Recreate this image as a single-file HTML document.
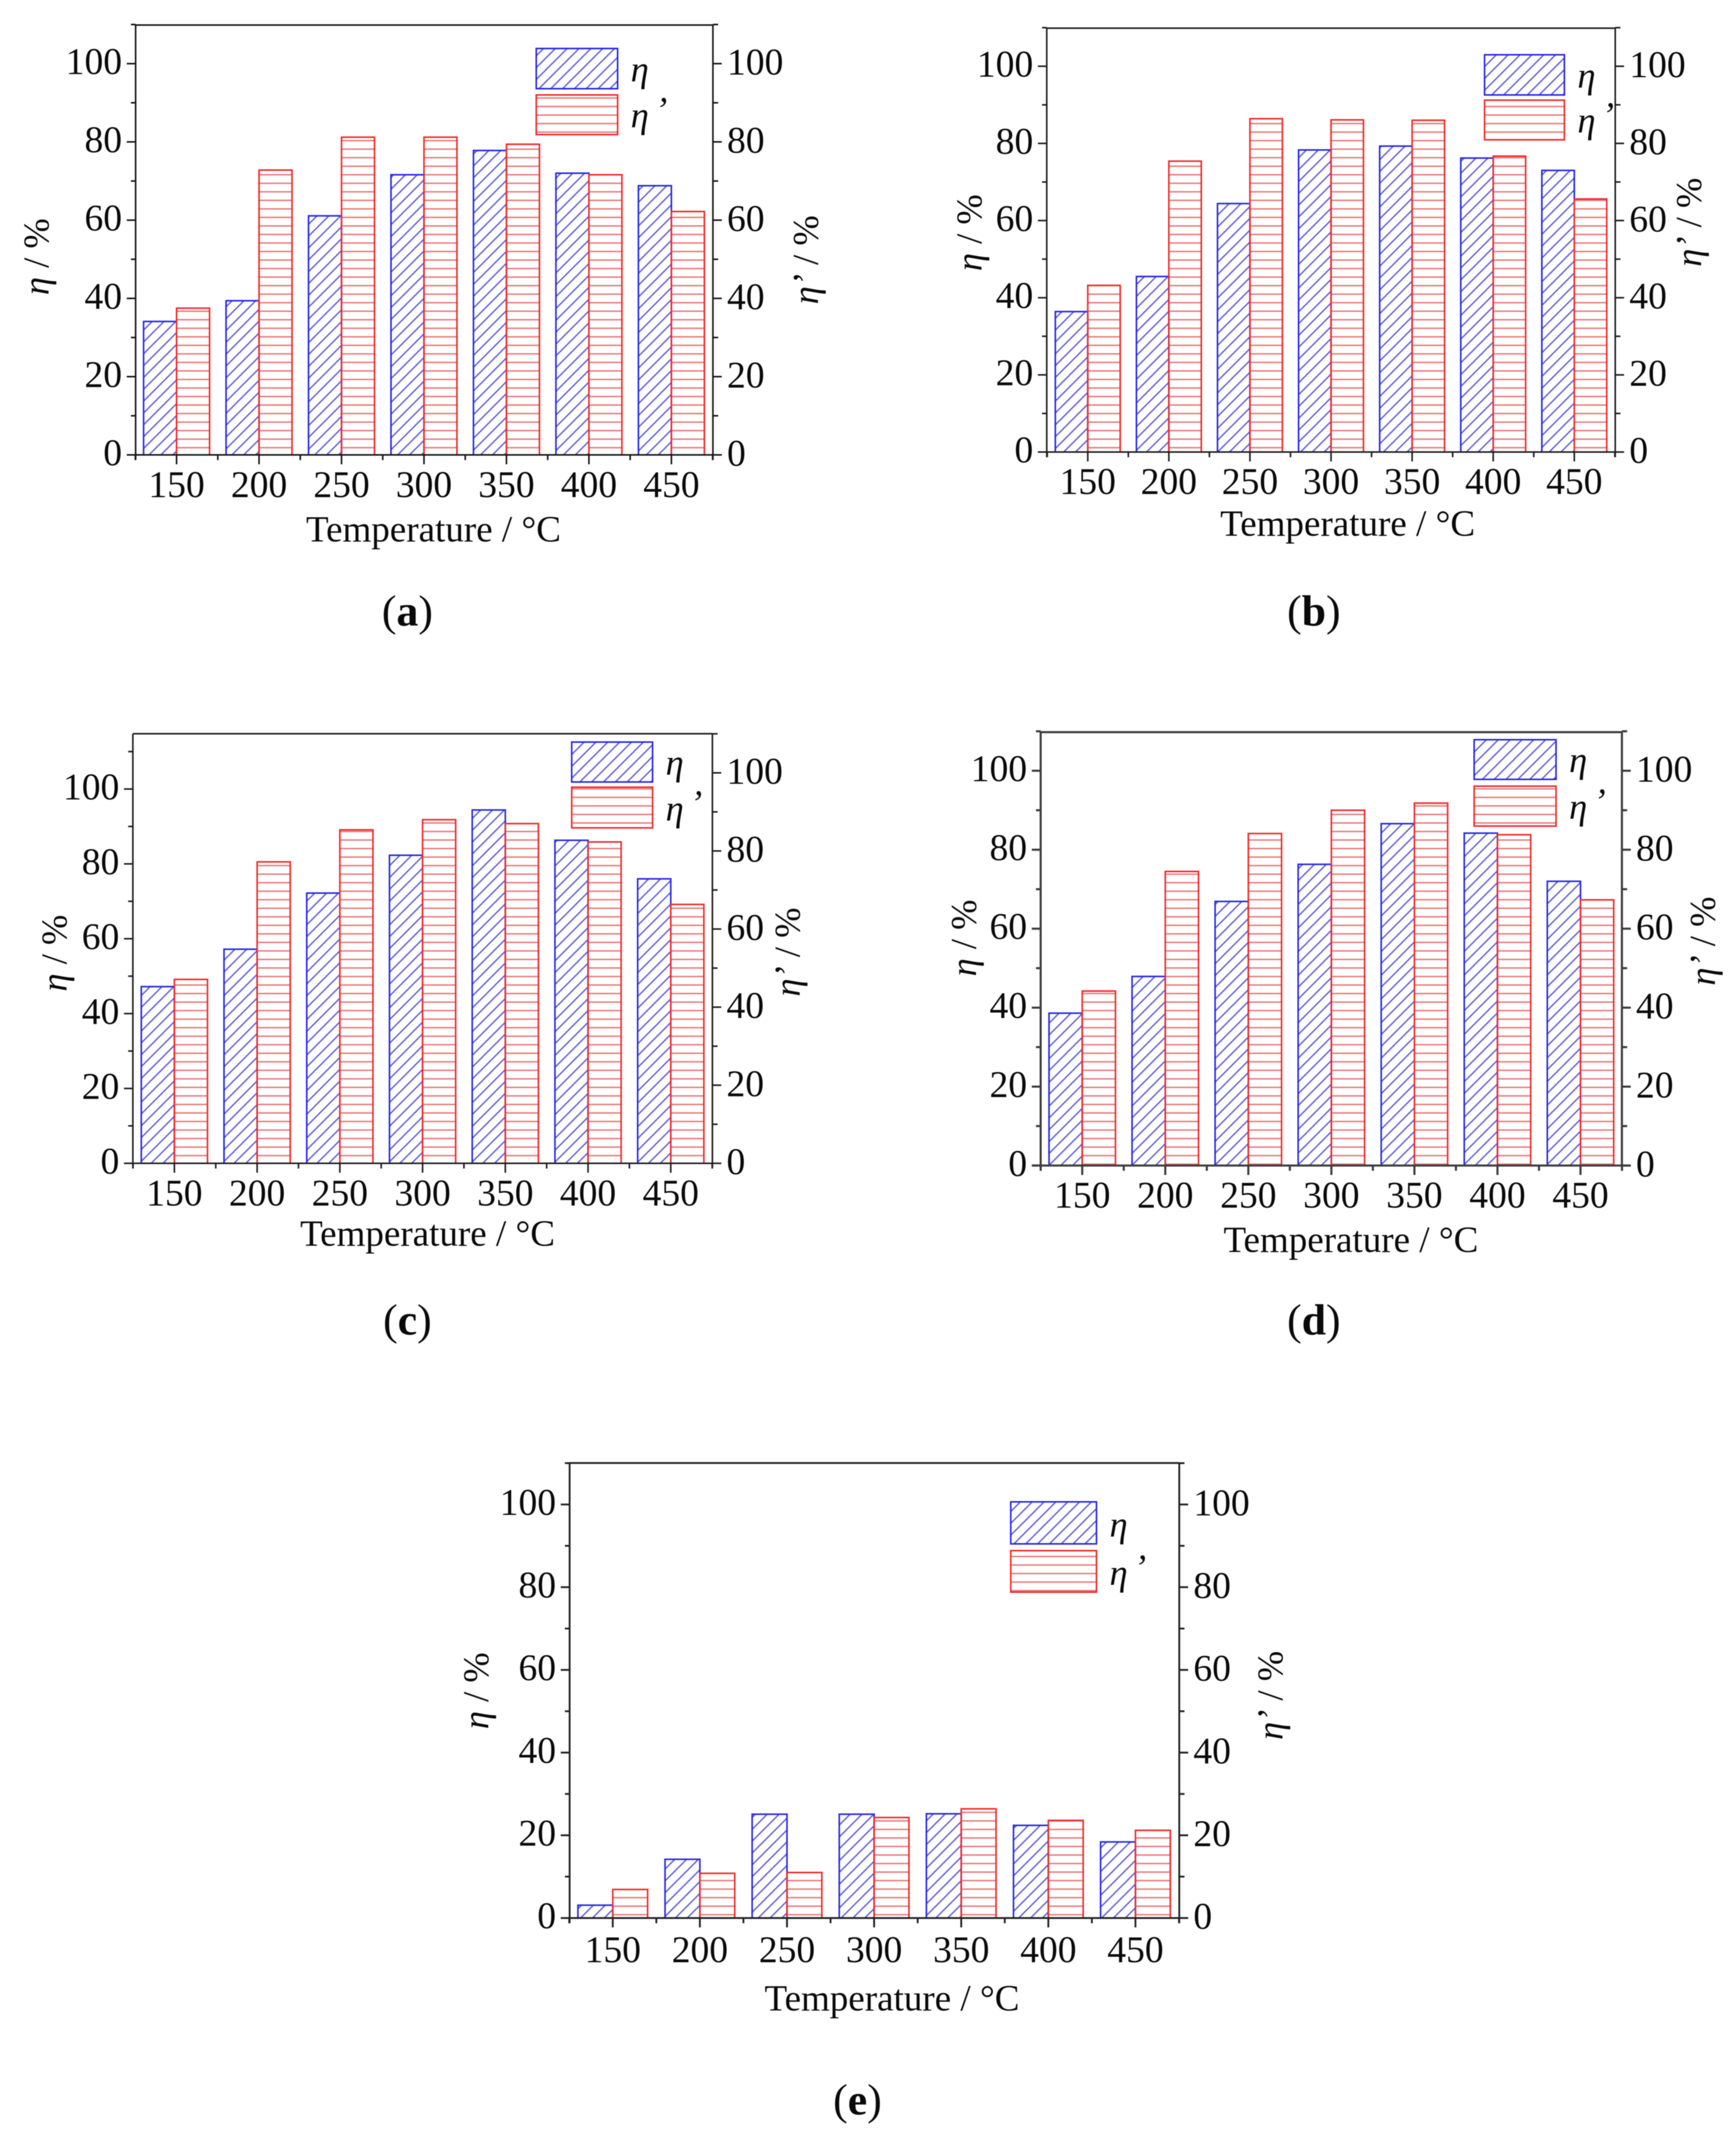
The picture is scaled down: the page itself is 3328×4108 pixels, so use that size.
<!DOCTYPE html>
<html lang="en">
<head>
<meta charset="utf-8">
<title>Efficiency versus temperature panels</title>
<style>
html,body{margin:0;padding:0;background:#fff;}
body{width:3328px;height:4108px;overflow:hidden;}
svg{display:block;filter:blur(0.7px);}
text{font-family:"Liberation Serif",serif;fill:#0a0a0a;white-space:pre;}
</style>
</head>
<body>
<svg id="figure" xmlns="http://www.w3.org/2000/svg" width="3328" height="4108" viewBox="0 0 3328 4108">
<defs>
<pattern id="hatch-blue" patternUnits="userSpaceOnUse" width="22.7" height="22.7">
<path d="M-2 24.7L24.7 -2M-2 2L2 -2M20.7 24.7L24.7 20.7" stroke="#5e5ed8" stroke-width="2.6" fill="none"/>
</pattern>
<pattern id="hatch-red" patternUnits="userSpaceOnUse" width="20" height="16.35">
<path d="M0 8H20" stroke="#e77474" stroke-width="2.6" fill="none"/>
</pattern>
</defs>
</svg>
<script>
const categories = ['150','200','250','300','350','400','450'];
const yTickLabels = [0,20,40,60,80,100];
const panelAEta = [34.1,39.4,61.1,71.6,77.8,72,68.8];
const panelAEtaPrime = [37.5,72.8,81.2,81.2,79.4,71.6,62.2];
const panelBEta = [36.4,45.5,64.4,78.3,79.3,76.2,73];
const panelBEtaPrime = [43.2,75.4,86.4,86.1,86,76.7,65.6];
const panelCEta = [47.2,57.2,72.2,82.3,94.4,86.3,76];
const panelCEtaPrime = [47.1,77.2,85.4,88,87,82.3,66.3];
const panelDEta = [38.6,47.9,66.9,76.3,86.6,84.2,72];
const panelDEtaPrime = [44.2,74.5,84.1,90,91.8,83.8,67.3];
const panelEEta = [3.1,14.2,25.1,25.1,25.2,22.4,18.4];
const panelEEtaPrime = [6.9,10.8,11,24.3,26.4,23.6,21.2];

const panels = [
 {id:'a',eta:panelAEta,prime:panelAEtaPrime,axL:260,axR:1366.7,top:48,base:872,left100:122,right100:122,first:338.5,step:158.1,axC:'#151515',axW:3,
  legX:1028,legW:156,blueY:93,blueB:170,redY:182,redB:258,tickBase:953,xTitleX:831,xTitleY:1038,capX:781,capY:1199,yLabX:93,yLabY:492,rLabX:1568,rLabY:498},
 {id:'b',eta:panelBEta,prime:panelBEtaPrime,axL:2006.7,axR:3096.5,top:54,base:866.5,left100:127,right100:127,first:2085.3,step:155.45,axC:'#1c1c1c',axW:3,
  legX:2846,legW:153,blueY:105,blueB:182,redY:192,redB:268,tickBase:947,xTitleX:2583.5,xTitleY:1027,capX:2518.7,capY:1199,yLabX:1881.5,yLabY:446,rLabX:3261,rLabY:426},
 {id:'c',eta:panelCEta,prime:panelCEtaPrime,axL:254.7,axR:1365.7,top:1406.5,base:2230,left100:1512.5,right100:1481.5,first:334.3,step:158.6,axC:'#1c1c1c',axW:3,
  legX:1096,legW:155,blueY:1422.5,blueB:1499,redY:1509,redB:1587,tickBase:2311,xTitleX:819.7,xTitleY:2388,capX:781,capY:2558,yLabX:127.3,yLabY:1827,rLabX:1533,rLabY:1825},
 {id:'d',eta:panelDEta,prime:panelDEtaPrime,axL:1995,axR:3109.3,top:1403.5,base:2234.3,left100:1477.5,right100:1477.5,first:2074.7,step:159.2,axC:'#3c3c3c',axW:4,
  legX:2826,legW:157,blueY:1418,blueB:1494,redY:1507,redB:1583.5,tickBase:2315,xTitleX:2589.8,xTitleY:2400,capX:2518.7,capY:2558,yLabX:1871,yLabY:1798,rLabX:3287.5,rLabY:1804},
 {id:'e',eta:panelEEta,prime:panelEEtaPrime,axL:1092,axR:2260.7,top:2804.5,base:3676.7,left100:2884,right100:2884,first:1174.7,step:167,axC:'#222222',axW:3.5,
  legX:1937.7,legW:164.3,blueY:2879,blueB:2959.5,redY:2972.5,redB:3052,tickBase:3761.7,xTitleX:1710,xTitleY:3854,capX:1643.8,capY:4053,yLabX:936,yLabY:3241,rLabX:2458.7,rLabY:3250}
];

const NS = 'http://www.w3.org/2000/svg';
const svg = document.getElementById('figure');

function mk(parent, tag, attrs){
  const el = document.createElementNS(NS, tag);
  for (const k in attrs) el.setAttribute(k, attrs[k]);
  parent.appendChild(el);
  return el;
}
function span(parent, str, italic){
  const t = document.createElementNS(NS, 'tspan');
  if (italic) t.setAttribute('font-style', 'italic');
  t.textContent = str;
  parent.appendChild(t);
  return t;
}

panels.forEach(function(p){
  const g = mk(svg, 'g', {});
  
  

  const yLeft = function(v){ return p.base - v * (p.base - p.left100) / 100; };
  const yRight = function(v){ return p.base - v * (p.base - p.right100) / 100; };
  const xCat = function(i){ return p.first + i * p.step; };
  const barW = p.step * 0.4;

  // bars
  categories.forEach(function(cat, i){
    const yB = yLeft(p.eta[i]);
    const blue = mk(g, 'rect', {x:xCat(i)-barW, y:yB, width:barW, height:p.base-yB, fill:'url(#hatch-blue)', stroke:'#2727e6', 'stroke-width':3});
    
    
    const yR = yRight(p.prime[i]);
    const red = mk(g, 'rect', {x:xCat(i), y:yR, width:barW, height:p.base-yR, fill:'url(#hatch-red)', stroke:'#f02a2a', 'stroke-width':3});
    
    
  });

  // axis frame
  const axisG = mk(g, 'g', {stroke:p.axC, 'stroke-width':p.axW, fill:'none'});
  
  
  mk(axisG, 'line', {x1:p.axL, y1:p.top, x2:p.axR, y2:p.top});
  mk(axisG, 'line', {x1:p.axL, y1:p.top, x2:p.axL, y2:p.base+10});
  mk(axisG, 'line', {x1:p.axR, y1:p.top, x2:p.axR, y2:p.base+10});
  mk(axisG, 'line', {x1:p.axL-17, y1:p.base, x2:p.axR+17, y2:p.base});

  // y ticks
  for (let v = 10; v <= 110; v += 20){
    mk(axisG, 'line', {x1:p.axL-9, y1:yLeft(v), x2:p.axL, y2:yLeft(v)});
    mk(axisG, 'line', {x1:p.axR, y1:yRight(v), x2:p.axR+10, y2:yRight(v)});
  }
  yTickLabels.forEach(function(v){
    mk(axisG, 'line', {x1:p.axL-17, y1:yLeft(v), x2:p.axL, y2:yLeft(v)});
    mk(axisG, 'line', {x1:p.axR, y1:yRight(v), x2:p.axR+17, y2:yRight(v)});
    const lt = mk(g, 'text', {x:p.axL-26, y:yLeft(v)+20, 'font-size':72, 'text-anchor':'end'});
    lt.textContent = String(v);
    
    
    const rt = mk(g, 'text', {x:p.axR+27, y:yRight(v)+21, 'font-size':72});
    rt.textContent = String(v);
    
    
  });

  // x ticks
  for (let i = -1; i < categories.length; i++){
    const mx = xCat(i + 0.5);
    mk(axisG, 'line', {x1:mx, y1:p.base, x2:mx, y2:p.base+10});
  }
  categories.forEach(function(cat, i){
    mk(axisG, 'line', {x1:xCat(i), y1:p.base, x2:xCat(i), y2:p.base+18});
    const t = mk(g, 'text', {x:xCat(i), y:p.tickBase, 'font-size':72, 'text-anchor':'middle'});
    t.textContent = cat;
    
    
  });

  // axis titles
  const xt = mk(g, 'text', {x:p.xTitleX, y:p.xTitleY, 'font-size':71, 'text-anchor':'middle'});
  xt.textContent = 'Temperature / °C';
  
  

  const yt = mk(g, 'text', {x:p.yLabX, y:p.yLabY, 'font-size':70, 'text-anchor':'middle', transform:'rotate(-90 '+p.yLabX+' '+p.yLabY+')'});
  span(yt, 'η', true);
  span(yt, ' / %', false);
  
  

  const rt2 = mk(g, 'text', {x:p.rLabX, y:p.rLabY, 'font-size':70, 'text-anchor':'middle', transform:'rotate(-90 '+p.rLabX+' '+p.rLabY+')'});
  span(rt2, 'η’', true);
  span(rt2, ' / %', false);
  
  

  // legend
  const lg = mk(g, 'g', {});
  
  
  const sb = mk(lg, 'rect', {x:p.legX, y:p.blueY, width:p.legW, height:p.blueB-p.blueY, fill:'url(#hatch-blue)', stroke:'#2727e6', 'stroke-width':3});
  
  
  const sr = mk(lg, 'rect', {x:p.legX, y:p.redY, width:p.legW, height:p.redB-p.redY, fill:'url(#hatch-red)', stroke:'#f02a2a', 'stroke-width':3});
  
  
  const le = mk(lg, 'text', {x:p.legX+p.legW+25, y:p.blueB-14, 'font-size':70, 'font-style':'italic'});
  le.textContent = 'η';
  
  
  const lp = mk(lg, 'text', {x:p.legX+p.legW+25, y:p.redB-14, 'font-size':70, 'font-style':'italic'});
  lp.textContent = 'η';
  const ap = span(lp, '’', true);
  ap.setAttribute('dx', '12');
  ap.setAttribute('dy', '-10');
  
  

  // caption
  const cap = mk(g, 'text', {x:p.capX, y:p.capY, 'font-size':84, 'text-anchor':'middle'});
  span(cap, '(', false);
  const b = span(cap, p.id, false);
  b.setAttribute('font-weight', 'bold');
  span(cap, ')', false);
  
  
});
</script>
</body>
</html>
